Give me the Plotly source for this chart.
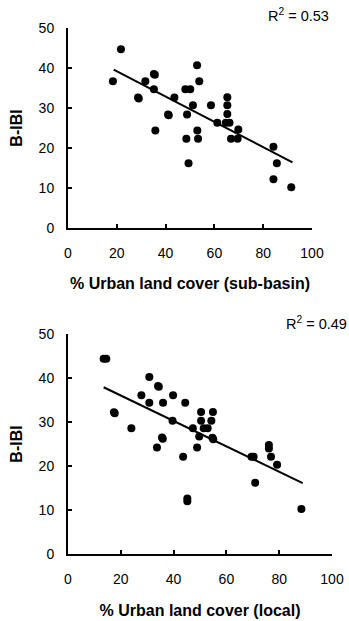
import plotly.graph_objects as go

# ---- Data: sub-basin panel ----
subbasin_x = [21.7, 18.4, 31.7, 35.2, 35.6, 35.2, 28.7, 29.0, 43.6, 41.0, 41.3,
              48.1, 50.1, 52.9, 53.8, 51.2, 48.8, 58.6, 65.3, 65.3, 65.3, 64.7,
              66.2, 61.2, 35.8, 53.0, 48.5, 53.3, 49.4, 66.8, 69.5, 69.8, 84.2,
              85.6, 84.2, 91.5]
subbasin_y = [44.7, 36.7, 36.7, 38.5, 38.3, 34.7, 32.6, 32.4, 32.6, 28.4, 28.2,
              34.7, 34.7, 40.7, 36.7, 30.7, 28.4, 30.7, 32.7, 30.7, 28.5, 26.3,
              26.3, 26.3, 24.4, 24.4, 22.3, 22.3, 16.2, 22.3, 22.3, 24.6, 20.3,
              16.2, 12.2, 10.2]
subbasin_fit_x = [18.7, 92.0]
subbasin_fit_y = [39.6, 16.4]
subbasin_r2 = "0.53"

# ---- Data: local panel ----
local_x = [13.5, 14.5, 30.8, 34.1, 34.4, 27.8, 30.8, 39.8, 36.0, 44.4, 17.4, 17.7,
           24.0, 39.6, 35.6, 35.9, 33.7, 47.3, 50.4, 50.4, 51.4, 52.9, 54.9, 54.3,
           49.7, 54.7, 55.0, 48.9, 43.6, 45.2, 45.2, 69.5, 70.3, 70.9, 76.1, 76.1,
           76.9, 79.2, 88.4]
local_y = [44.4, 44.4, 40.2, 38.2, 38.0, 36.1, 34.4, 36.1, 34.4, 34.4, 32.2, 32.0,
           28.6, 30.3, 26.5, 26.2, 24.2, 28.6, 32.3, 30.3, 28.6, 28.6, 32.3, 30.3,
           26.7, 26.4, 26.1, 24.2, 22.1, 12.0, 12.6, 22.1, 22.1, 16.2, 24.0, 24.8,
           22.1, 20.3, 10.2]
local_fit_x = [13.5, 88.9]
local_fit_y = [37.9, 16.1]
local_r2 = "0.49"

x_ticks = [0, 20, 40, 60, 80, 100]
y_ticks = [0, 10, 20, 30, 40, 50]
x_title_top = "% Urban land cover (sub-basin)"
x_title_bottom = "% Urban land cover (local)"
y_title = "B-IBI"

FONT = "Liberation Sans, Arial, sans-serif"
W, H = 349, 621
TICK_SIZE = 14
TITLE_SIZE = 16

fig = go.Figure()

def add_panel(xs, ys, fx, fy, xa, ya):
    fig.add_trace(go.Scatter(x=xs, y=ys, mode="markers", xaxis=xa, yaxis=ya,
                             marker=dict(color="black", size=8, line=dict(width=0)),
                             showlegend=False, cliponaxis=False))
    fig.add_trace(go.Scatter(x=fx, y=fy, mode="lines", xaxis=xa, yaxis=ya,
                             line=dict(color="black", width=2),
                             showlegend=False))

add_panel(subbasin_x, subbasin_y, subbasin_fit_x, subbasin_fit_y, "x", "y")
add_panel(local_x, local_y, local_fit_x, local_fit_y, "x2", "y2")

def px_x(p):
    return p / W

def px_y(p):
    return 1 - p / H

axis_common = dict(showgrid=False, zeroline=False, showline=True, linecolor="black",
                   linewidth=2, ticks="inside", ticklen=4, tickwidth=1.5,
                   tickcolor="black", tickfont=dict(family=FONT, size=TICK_SIZE, color="black"),
                   mirror=False, automargin=False)

xaxis_common = dict(axis_common, range=[0, 100], tickvals=x_ticks, ticklabelstandoff=11)
yaxis_common = dict(axis_common, range=[0, 50], tickvals=y_ticks, ticklabelstandoff=9)

title_font = dict(family=FONT, size=TITLE_SIZE, color="black")

fig.update_layout(
    template="none",
    width=W, height=H, margin=dict(l=0, r=0, t=0, b=0, autoexpand=False),
    paper_bgcolor="white", plot_bgcolor="white",
    font=dict(family=FONT, size=13, color="black"),
    xaxis=dict(xaxis_common, domain=[px_x(68), px_x(312)], anchor="y",
               title=dict(text="<b>%s</b>" % x_title_top, font=title_font, standoff=18)),
    yaxis=dict(yaxis_common, domain=[px_y(228), px_y(28)], anchor="x",
               title=dict(text="<b>%s</b>" % y_title, font=title_font, standoff=12)),
    xaxis2=dict(xaxis_common, domain=[px_x(68), px_x(332)], anchor="y2",
                title=dict(text="<b>%s</b>" % x_title_bottom, font=title_font, standoff=19)),
    yaxis2=dict(yaxis_common, domain=[px_y(554), px_y(334)], anchor="x2",
                title=dict(text="<b>%s</b>" % y_title, font=title_font, standoff=12)),
    annotations=[
        dict(text="R<sup>2</sup> = " + subbasin_r2, xref="paper", yref="paper",
             x=px_x(331), y=px_y(15), xanchor="right", yanchor="middle",
             showarrow=False, font=dict(family=FONT, size=14.5, color="black")),
        dict(text="R<sup>2</sup> = " + local_r2, xref="paper", yref="paper",
             x=px_x(349), y=px_y(323), xanchor="right", yanchor="middle",
             showarrow=False, font=dict(family=FONT, size=14.5, color="black")),
    ],
)

fig.write_html("out.html",
               config={"displayModeBar": False},
               post_script="document.body.style.margin='0px';document.body.style.padding='0px';")
